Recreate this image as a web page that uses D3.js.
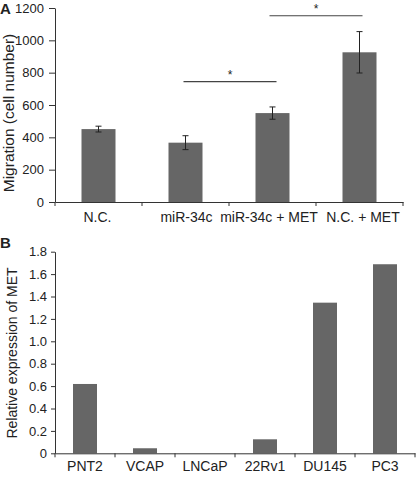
<!DOCTYPE html>
<html><head><meta charset="utf-8">
<script src="https://cdn.jsdelivr.net/npm/d3@7"></script>
<style>body{margin:0;background:#fff}svg{display:block}text{font-family:"Liberation Sans",Arial,sans-serif;fill:#222}</style>
</head><body><svg id="c" width="416" height="477"></svg>
<script>
const catsA = ["N.C.", "miR-34c", "miR-34c + MET", "N.C. + MET"];
const valsA = [451, 367, 550, 926];
const errA = [18, 43, 38, 128];
const ticksA = [0, 200, 400, 600, 800, 1000, 1200];
const sigA = [["miR-34c", "miR-34c + MET", 744], ["miR-34c + MET", "N.C. + MET", 1152]];

const catsB = ["PNT2", "VCAP", "LNCaP", "22Rv1", "DU145", "PC3"];
const valsB = [0.619, 0.045, 0.0, 0.125, 1.345, 1.688];
const ticksB = [0, 0.2, 0.4, 0.6, 0.8, 1.0, 1.2, 1.4, 1.6, 1.8];

const svg = d3.select("#c");
const barColor = "#666666";
const axColor = "#333";

function styleAxis(g){
  g.selectAll("path,line").attr("stroke", axColor).attr("stroke-width", 1);
  g.selectAll("text").attr("fill", "#222");
}

// Panel A
{
  const xb = d3.scaleBand().domain(catsA).range([55, 403]);
  const y = d3.scaleLinear().domain([0, 1200]).range([202, 8]);
  const g = svg.append("g");
  g.selectAll("rect").data(catsA).join("rect")
    .attr("x", d => xb(d) + xb.bandwidth()/2 - 17).attr("width", 34)
    .attr("y", (d,i) => y(valsA[i])).attr("height", (d,i) => y(0) - y(valsA[i]))
    .attr("fill", barColor);
  catsA.forEach((c,i) => {
    const cx = xb(c) + xb.bandwidth()/2;
    g.append("line").attr("x1", cx).attr("x2", cx).attr("y1", y(valsA[i]+errA[i])).attr("y2", y(valsA[i]-errA[i])).attr("stroke", "#222").attr("stroke-width", 1);
    [valsA[i]+errA[i], valsA[i]-errA[i]].forEach(v => g.append("line").attr("x1", cx-3).attr("x2", cx+3).attr("y1", y(v)).attr("y2", y(v)).attr("stroke", "#222").attr("stroke-width", 1));
  });
  sigA.forEach((s,k) => {
    const x1 = xb(s[0]) + xb.bandwidth()/2 - (k ? 3 : 2), x2 = xb(s[1]) + xb.bandwidth()/2 + (k ? 3 : 4);
    g.append("line").attr("x1", x1).attr("x2", x2).attr("y1", y(s[2])).attr("y2", y(s[2])).attr("stroke", "#444").attr("stroke-width", 1.2);
    g.append("text").attr("x", (x1+x2)/2).attr("y", y(s[2]) - 3).attr("text-anchor", "middle").attr("font-size", 12).text("*");
  });
  const ya = g.append("g").attr("transform", "translate(55,0)")
    .call(d3.axisLeft(y).tickValues(ticksA).tickSize(6).tickSizeOuter(0).tickPadding(5).tickFormat(d3.format("d")));
  ya.selectAll("text").attr("font-size", 13);
  styleAxis(ya);
  const xa = g.append("g").attr("transform", "translate(0,202)")
    .call(d3.axisBottom(xb).tickSize(0).tickPadding(10));
  xa.selectAll("text").attr("font-size", 14)
    .attr("dx", d => d === "miR-34c + MET" ? -3.5 : d === "N.C. + MET" ? 3.5 : d === "N.C." ? -1 : 1);
  styleAxis(xa);
  const bounds = catsA.map(c => xb(c)).concat([403]);
  g.selectAll(".bt").data(bounds).join("line").attr("class","bt")
    .attr("x1", d=>d).attr("x2", d=>d).attr("y1", 202).attr("y2", 206).attr("stroke", axColor);
  g.append("text").attr("transform", "translate(13.5,113) rotate(-90)").attr("text-anchor", "middle").attr("font-size", 15.5).text("Migration (cell number)");
  g.append("text").attr("x", 0).attr("y", 14).attr("font-size", 15).attr("font-weight", "bold").text("A");
}

// Panel B
{
  const xb = d3.scaleBand().domain(catsB).range([55, 415]);
  const y = d3.scaleLinear().domain([0, 1.8]).range([453.3, 251.7]);
  const g = svg.append("g");
  g.selectAll("rect").data(catsB).join("rect")
    .attr("x", d => xb(d) + xb.bandwidth()/2 - 12).attr("width", 24)
    .attr("y", (d,i) => y(valsB[i])).attr("height", (d,i) => y(0) - y(valsB[i]))
    .attr("fill", barColor);
  const ya = g.append("g").attr("transform", "translate(55,0)")
    .call(d3.axisLeft(y).tickValues(ticksB).tickSize(4).tickSizeOuter(0).tickPadding(4).tickFormat(d => d === 0 ? "0" : d3.format(".1f")(d)));
  ya.selectAll("text").attr("font-size", 13);
  styleAxis(ya);
  const xa = g.append("g").attr("transform", "translate(0,453.3)")
    .call(d3.axisBottom(xb).tickSize(0).tickPadding(8));
  xa.selectAll("text").attr("font-size", 14);
  styleAxis(xa);
  const bounds = catsB.map(c => xb(c)).concat([415]);
  g.selectAll(".bt").data(bounds).join("line").attr("class","bt")
    .attr("x1", d=>d).attr("x2", d=>d).attr("y1", 453.3).attr("y2", 457.3).attr("stroke", axColor);
  g.append("text").attr("transform", "translate(17,353) rotate(-90)").attr("text-anchor", "middle").attr("font-size", 14).text("Relative expression of MET");
  g.append("text").attr("x", 0).attr("y", 248).attr("font-size", 15).attr("font-weight", "bold").text("B");
}
</script></body></html>
